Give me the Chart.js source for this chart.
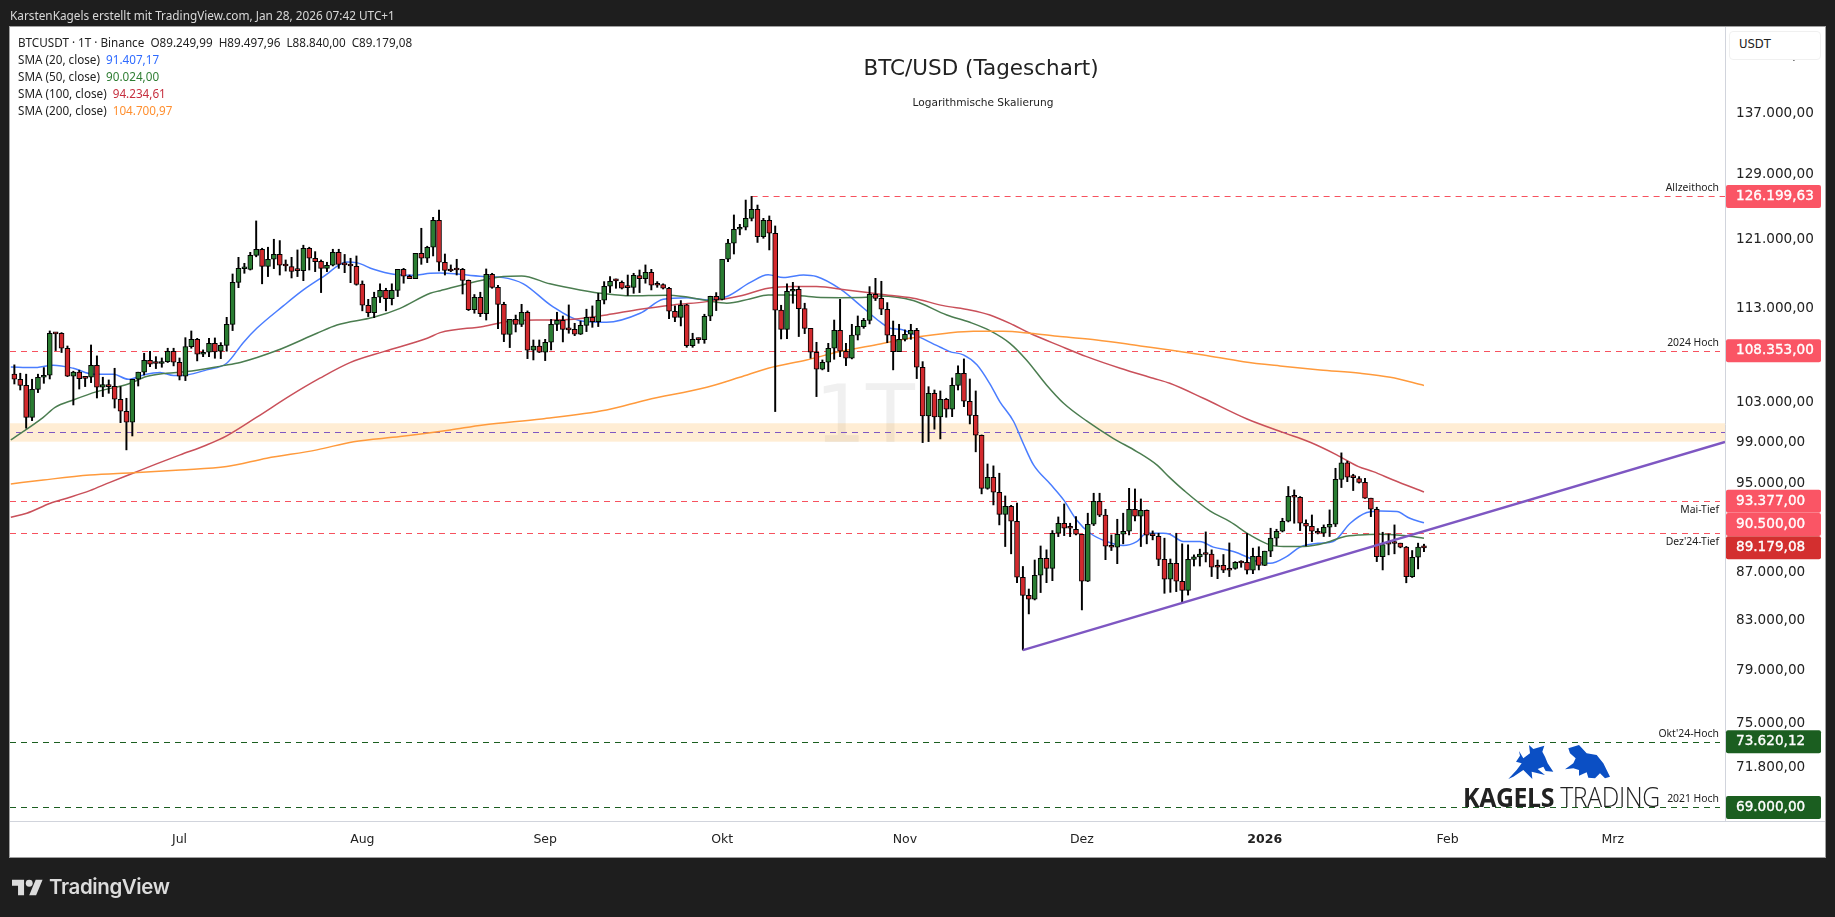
<!DOCTYPE html>
<html lang="de">
<head>
    <meta charset="UTF-8">
    <title>BTC/USD (Tageschart)</title>
    <script src="https://cdn.jsdelivr.net/npm/chart.js"></script>
    <style>
        html, body { margin: 0; padding: 0; background: #1e1e1e; overflow: hidden; }
        body { width: 1835px; height: 917px; position: relative; font-family: "DejaVu Sans", sans-serif; }
        canvas { position: absolute; left: 0; top: 0; }
        .abs { position: absolute; white-space: pre; line-height: 16px; }
        #header { left: 10px; top: 7px; color: #d8d8d8; font-family: "Noto Sans", sans-serif; font-size: 11.8px; }
        .legend { left: 18px; color: #222; font-family: "Noto Sans", sans-serif; font-size: 11.7px; }
        #title { left: 0; width: 1962px; top: 54px; text-align: center; color: #222; font-size: 21.5px; line-height: 28px; }
        #subtitle { left: 0; width: 1966px; top: 94px; text-align: center; color: #222; font-size: 10.6px; }
        #unit { left: 1729px; top: 31px; width: 90px; height: 27px; line-height: 24px; border: 1px solid #f0f0f0; border-radius: 4px;
                background: #fff; color: #222; font-size: 11.6px; text-indent: 9px; }
        #brand { left: 1463px; top: 781px; font-family: "Open Sans", sans-serif; font-size: 27px; line-height: 32px; color: #222;
                 letter-spacing: -0.4px; transform: scaleX(0.92); transform-origin: left top; }
        #brand b { font-weight: 700; }
        #brand span { font-weight: 300; }
        #tvname { left: 49px; top: 873px; color: #dcdcdc; font-family: Inter, sans-serif; font-weight: 600; font-size: 20.5px; line-height: 28px; letter-spacing: -0.4px; }
    </style>
</head>
<body>
    <canvas id="chart" width="1835" height="917"></canvas>

    <div class="abs" id="header">KarstenKagels erstellt mit TradingView.com, Jan 28, 2026 07:42 UTC+1</div>
    <div class="abs legend" style="top:34px">BTCUSDT · 1T · Binance  O89.249,99  H89.497,96  L88.840,00  C89.179,08</div>
    <div class="abs legend" style="top:51px">SMA (20, close)  <span style="color:#2f6bff">91.407,17</span></div>
    <div class="abs legend" style="top:68px">SMA (50, close)  <span style="color:#2e7d32">90.024,00</span></div>
    <div class="abs legend" style="top:85px">SMA (100, close)  <span style="color:#c62f3f">94.234,61</span></div>
    <div class="abs legend" style="top:102px">SMA (200, close)  <span style="color:#ff8f2f">104.700,97</span></div>
    <div class="abs" id="title">BTC/USD (Tageschart)</div>
    <div class="abs" id="subtitle">Logarithmische Skalierung</div>
    <div class="abs" id="unit">USDT</div>

    <!-- logo -->
    <svg class="abs" style="left:1455px;top:735px" width="210" height="48" viewBox="0 0 630 144">
        <polygon fill="#0b4fc4" points="160,132 185,105 200,85 183,80 195,62 192,48 205,70 225,55 222,30 235,42 268,32 262,50 270,65 278,85 295,110 272,108 265,95 248,102 270,120 230,110 232,132 205,105 175,125"/>
        <polygon fill="#0b4fc4" points="340,40 372,30 395,55 425,60 445,85 465,125 450,130 435,115 420,130 400,128 395,112 372,122 372,105 355,100 330,103 355,85 362,70 345,55"/>
    </svg>
    <div class="abs" id="brand"><b>KAGELS</b> <span>TRADING</span></div>
    <svg class="abs" style="left:12px;top:878px" width="31" height="19" viewBox="0 4 36 18">
        <path fill="#dcdcdc" d="M14 22H7V11H0V4h14v18zM28 22h-8l7.5-18h8L28 22z"/>
        <circle fill="#dcdcdc" cx="20" cy="8" r="4"/>
    </svg>
    <div class="abs" id="tvname">TradingView</div>

    <script>
        // Daily candles, one per day starting 28 days before Jul 1
        const firstDay = -28;
        const opens = [
            105870,105340,104710,101450,104300,105550,105760,110240,110240,108620,
            105660,106080,105510,105550,106810,104510,104780,104610,103280,102060,
            100960,105340,106080,107340,107020,106990,107200,108300,107130,105660,
            108800,109580,107980,108190,109150,108300,108930,111220,115930,117500,
            117430,119050,119780,117780,118600,119170,117900,117740,117350,117280,
            119900,118720,118360,117540,117900,119420,118010,117900,117780,115720,
            113330,112510,114230,115020,114080,115020,117430,116630,116350,119300,
            118720,120020,123260,118250,117310,117430,117430,116160,112850,114230,
            112400,116850,115360,113440,110100,111760,111220,112550,108400,108840,
            108190,109260,111220,111650,110670,110670,110130,111100,111990,111510,
            113890,115480,116120,115930,115410,115360,116700,116350,117080,115680,
            115680,115250,112660,111990,113370,108890,109620,109550,112110,114350,
            114000,118600,120510,122170,122410,123500,124600,121290,123260,121690,
            112780,110670,114910,115130,112960,110780,108190,106390,107130,108620,
            110560,108300,107550,110030,110970,111650,114570,114110,112890,
            110020,108260,109580,110130,110560,106600,101590,103880,101490,103280,102260,
            104700,105970,103080,101650,99670,94580,95610,94210,92180,92920,
            91550,86620,85090,84760,86790,88250,87390,90470,91370,90980,
            90830,90380,86280,91280,93380,92100,89320,89230,90380,90650,
            92640,92000,92550,90320,90200,88170,86450,87820,86280,85510,
            88170,88380,88650,88620,87650,87650,87390,87390,87910,87910,
            87220,88440,87650,88880,90030,90650,91550,93840,93750,91370,
            91100,90650,90470,91010,91280,95420,97000,95640,95490,95140,
            93660,92640,88400,89560,89590,89590,89240,86680,88350,89249.99
        ];
        const highs = [
            106850,105970,105870,105340,105870,106560,110490,110310,110310,108860,
            106180,106290,105620,108970,107800,105550,105270,106490,104580,103380,
            105340,106080,108080,108300,107720,107580,108620,108620,107580,109760,
            110490,109690,108440,109690,109730,109220,111990,116890,118830,118130,
            119420,123180,119900,120020,120970,120810,118520,118830,119700,120260,
            120020,119500,118520,118250,119780,119780,119170,118720,118990,116090,
            114000,114800,115760,115250,115760,117430,117540,116770,119300,122290,
            120140,123620,124520,119220,117940,118600,117540,116200,114540,114800,
            117470,116970,115600,113670,111760,112240,113440,112700,109510,109510,
            109580,111760,112550,112140,113370,111330,111580,112890,113260,114680,
            116010,116590,116310,116090,116770,116970,117350,117940,117430,116010,
            115760,115360,113260,113860,113440,110240,109730,112330,114350,114760,
            118600,120970,123910,122770,125750,126199.63,125130,123500,123790,122570,
            113330,115760,115930,115440,113560,110780,109260,107370,109150,111690,
            114000,109150,111220,112140,111870,115440,116390,116050,113630,
            111580,111220,110600,111220,110780,107190,104570,104230,104130,103380,105480,
            106750,107480,105370,104130,99700,96880,96700,96000,93870,93000,
            93220,87550,85620,88110,89340,89000,90710,91940,93130,91370,
            91970,90380,92280,94120,94120,92640,90320,91730,92280,94580,
            94520,93590,92580,90680,90470,90030,88200,90470,89530,89440,
            88560,89060,90590,89000,88110,88590,89610,87970,88050,90440,
            89150,89270,88880,90920,90830,91820,94750,94430,93810,91670,
            92120,90890,91220,92580,96470,97950,97150,95900,95680,95520,
            93660,92830,90560,90410,91220,89590,89300,88940,89590,89497.96
        ];
        const lows = [
            104850,104230,100370,101120,103960,104920,105370,108370,108160,105620,
            102700,104330,104580,104990,103410,103550,103890,102390,100920,98240,
            99600,104640,105790,106670,106460,106600,107100,106740,105270,105200,
            108620,107270,107720,107720,107550,107510,108300,110530,115320,116970,
            117350,118890,115760,116590,117510,116770,117230,116430,116590,116120,
            117350,117160,114760,117160,117820,117540,117040,115890,115600,112710,
            112070,111950,113630,112710,113370,114310,115830,116350,116350,118010,
            118210,118990,117230,116770,117160,116770,114600,112740,112440,112070,
            111690,115250,110750,109330,108690,110380,110970,107510,107370,108160,
            107300,108440,110530,109300,110240,109980,110100,110420,110890,110970,
            113480,114760,115250,115170,114430,114680,114760,115830,115060,115360,
            115170,111840,111510,111040,108720,108720,109150,109150,111620,112740,
            113930,118320,119220,121500,122090,123180,120590,121090,119700,102030,
            109620,109650,113560,109880,110200,107550,103550,106320,106140,107440,
            107720,106770,107480,109510,110780,111260,113860,112280,109220,
            106320,108260,109400,109580,105410,98950,99050,100270,99310,101460,101520,
            104230,102530,100790,98050,94060,94490,93040,91220,89290,88650,
            86160,80610,83540,84700,85320,86160,86330,90170,90260,90170,
            90320,83870,86250,91160,91970,88140,88940,87790,89530,90320,
            91580,89290,89530,89880,87620,85260,85340,85400,84490,85110,
            87590,87590,87940,86680,86500,87020,86680,87310,87480,86900,
            86930,87250,87620,88400,89380,90590,91490,91370,90710,89350,
            89730,90410,90180,90180,91070,94650,95200,94370,95070,93630,
            91970,87970,87250,88560,88650,89180,86150,86600,87340,88840
        ];
        const closes = [
            105340,104710,101450,104300,105550,105760,110240,110170,108620,105660,
            106080,105410,105440,106810,104510,104780,104580,103280,102060,100960,
            105340,106080,107340,106920,106990,107200,108300,107130,105660,108800,
            109580,107980,108190,109150,108230,108930,111220,115930,117540,117540,
            119050,119780,117780,118600,119170,117900,117820,117200,117280,119900,
            118720,118320,117540,117900,119420,118010,117940,117820,115680,113330,
            112510,114230,115020,114080,115020,117430,116630,116350,119300,118720,
            120020,123260,118250,117310,117230,117350,116160,112850,114230,112400,
            116850,115360,113440,110100,111760,111220,112550,108400,108840,108190,
            109260,111220,111650,110670,110600,110130,111100,111990,111510,113890,
            115480,116050,116090,115250,115320,116740,116350,117080,115600,115600,
            115250,112660,111990,113330,108890,109580,109550,112110,114350,113930,
            118600,120510,122170,122410,123500,124600,121290,123260,121690,112780,
            110670,114910,115130,112960,110780,108190,106390,107130,108620,110560,
            108300,107550,110030,111000,111650,114570,114110,112890,110030,
            108260,109580,110130,110560,106600,101590,103880,101490,103280,102260,104700,
            105970,103080,101650,99670,94580,95610,94210,92180,92920,91550,
            86620,85090,84760,86790,88250,87390,90470,91370,90920,90920,
            90380,86280,91280,93380,92100,89320,89230,90380,90650,92640,
            92000,92550,90290,90260,88170,86450,87820,86280,85510,88170,
            88380,88620,88590,87480,87480,87220,87220,87910,87850,87220,
            88440,87650,88880,90030,90650,91550,93840,93750,91370,91100,
            90650,90470,91010,91280,95420,97000,95620,95580,95140,93660,
            92640,88400,89470,89500,89560,89240,86680,88350,89240,89179.08
        ];

        // SMA lines, read at sample days (days since Jul 1)
        const sma20Days = [-28.6,-24.8,-21.4,-18,-14.6,-11.2,-8.7,-6.1,-3.3,-1,1.2,4.6,8,10.8,13.1,17.6,21,24.4,28.4,30,32.9,36.3,39.7,42.5,44.2,51.5,54.9,58.3,63.1,67.9,72.4,78.1,82,86,89.4,92.8,96.7,99.8,102.4,105.8,108,112,116,118.8,120.5,122.2,125,129,130.6,132.9,135.2,137.4,139.1,141.4,143.1,144.8,147.6,149.9,152.1,154.4,157.2,160,162.3,164,166.8,167.9,170.2,173,175.3,178.7,181.5,183.2,184.9,187.7,190,193.4,195.6,198.5,201.3,203.6,206.4,208.6,211];
        const sma20Values = [106630,106560,106810,106490,105870,105870,105340,105790,106040,105730,105790,106320,107020,109220,110780,113260,115060,116590,118280,118210,117430,116850,116740,116970,117010,116590,116470,115760,113260,111620,111440,112440,114000,114190,113930,114310,115890,116810,116470,116770,116590,115170,113000,111480,110780,110670,109950,108730,108260,107910,106860,104870,103010,101060,98810,96790,95000,93500,91670,90470,89730,89380,89730,90470,90470,90380,89730,89730,89240,88850,88260,87880,87820,88400,89240,89590,89730,91370,92340,92490,92430,91820,91407.17];
        const sma50Days = [-28.6,-23.1,-21.1,-18,-14,-8.7,-5.6,-2.2,1.2,7.4,10.3,16.5,23.3,26.7,32.9,37.4,42.5,44.2,51.5,54.9,58,62.8,67.9,72.4,76.4,82.6,85.4,89.4,92.8,96.7,99.8,103.5,108,112,116.5,118.8,124.4,130.1,134,137.4,140.8,143.6,147,149.9,153.8,158.3,162.3,165.7,167.9,170.2,174.7,178.1,181.5,184.9,187.2,190.6,194.5,197.3,200.2,203.5,207.5,211];
        const sma50Values = [99210,101450,102460,103210,104060,104850,105620,105970,106140,106770,107100,108370,110240,111150,111990,112990,114680,114980,116200,116590,116660,115760,115060,114600,114390,114460,114310,113860,113560,114040,114500,114500,114230,114190,114230,114380,113860,112250,111440,110530,109150,107370,104750,102870,101090,99370,98080,96790,95580,94430,92490,91520,90320,89440,89300,89300,89650,90140,90320,90380,90260,90024];
        const sma100Days = [-28.6,-25.9,-21.9,-19.1,-15.2,-11.8,-7.9,-3.9,0.1,4.6,8,13.1,18.7,23.8,28.9,34.6,42,44.2,51.5,56.6,61.7,66.8,72.4,78.1,83.7,89.4,95,99.8,104.1,108,113.1,118.8,124.4,129.5,134,137.4,141.4,144.2,149.3,153.8,159.5,165.1,167.9,173.6,181,187.2,191.7,196.2,199.9,202.4,205.8,211];
        const sma100Values = [91910,92280,93190,93660,94360,95140,96000,96890,97760,98720,99610,101460,103620,105450,107090,108260,109690,110310,110990,111620,111690,111770,112250,112890,113370,113740,114380,115250,115440,115440,115060,114570,114120,113290,112810,112250,111140,110240,108870,107720,106490,105440,104920,103380,101290,99930,98980,97760,96630,96150,95360,94234.61];
        const sma200Days = [-28.6,-23.1,-15.2,-7.9,0.1,8,14.8,23.3,29.5,37.4,45.9,51.5,61.4,72.4,79.2,89.4,95,99.8,106.3,112,118.8,122.2,125.6,130.1,134.6,139.7,144.2,149.3,155.5,162.9,167.9,173.6,180.4,186.6,193.4,200.2,205.3,211];
        const sma200Values = [94990,95360,95830,96050,96310,96630,97430,98240,99040,99540,100200,100690,101290,102190,103210,104510,105550,106500,107370,108260,109080,109510,109880,110240,110450,110450,110240,109880,109510,108870,108440,107900,107190,106740,106320,105970,105550,104700.97];

        // Trend line from the November low
        const trendDays = [143, 262.04];
        const trendValues = [80610, 99015];

        // Horizontal levels
        const redLevels = [126199.63, 108353, 93377, 90500];
        const redLevelNames = ['Allzeithoch', '2024 Hoch', 'Mai-Tief', "Dez'24-Tief"];
        const greenLevels = [73620.12, 69000];
        const greenLevelNames = ["Okt'24-Hoch", '2021 Hoch'];
        const athStartDay = 97;
        const zoneLow = 99040, zoneMid = 99970, zoneHigh = 100860;
        const lastPrice = 89179.08;

        // Axes
        const yTicks = [145000, 137000, 129000, 121000, 113000, 103000, 99000, 95000, 87000, 83000, 79000, 75000, 71800];
        const monthDays = [0, 31, 62, 92, 123, 153, 184, 215, 243];
        const monthNames = ['Jul', 'Aug', 'Sep', 'Okt', 'Nov', 'Dez', '2026', 'Feb', 'Mrz'];

        const fontName = '"DejaVu Sans", sans-serif';
        const money = v => v.toLocaleString('de-DE', { minimumFractionDigits: 2, maximumFractionDigits: 2 });
        const pairs = (xs, ys) => xs.map((x, i) => ({ x: x, y: ys[i] }));
        const upColor = '#2a7d32', downColor = '#d32a2e';

        function smaDataset(days, values, color) {
            return { type: 'line', data: pairs(days, values), borderColor: color, borderWidth: 1.5, pointRadius: 0,
                     cubicInterpolationMode: 'monotone', order: 5 };
        }

        // Frame, price zone, levels, tags and labels are drawn around the library's datasets
        const overlays = {
            id: 'overlays',
            beforeDraw(chart) {
                const c = chart.ctx;
                c.save();
                c.fillStyle = '#1e1e1e';
                c.fillRect(0, 0, chart.width, chart.height);
                c.fillStyle = '#a0a0a0';
                c.fillRect(9, 26, 1817, 832);
                c.fillStyle = '#fff';
                c.fillRect(10, 27, 1815, 830);
                c.restore();
            },
            beforeDatasetsDraw(chart) {
                const c = chart.ctx, y = chart.scales.y, x = chart.scales.x, a = chart.chartArea;
                c.save();
                // watermark
                c.fillStyle = '#f0f0f0';
                c.font = '80px ' + fontName;
                c.textAlign = 'center';
                c.textBaseline = 'middle';
                c.fillText('1T', 865, 421);
                // zone
                c.fillStyle = 'rgba(255,167,38,0.2)';
                c.fillRect(a.left, y.getPixelForValue(zoneHigh), a.right - a.left, y.getPixelForValue(zoneLow) - y.getPixelForValue(zoneHigh));
                c.lineWidth = 1;
                c.setLineDash([6, 5]);
                const level = (value, color, from, to) => {
                    const py = Math.round(y.getPixelForValue(value)) + 0.5;
                    c.strokeStyle = color;
                    c.beginPath();
                    c.moveTo(from, py);
                    c.lineTo(to, py);
                    c.stroke();
                };
                level(zoneMid, '#7e57c2', 16, a.right);
                redLevels.forEach((v, i) => level(v, '#f7525f', i === 0 ? x.getPixelForValue(athStartDay) : a.left, i === 0 ? a.right : a.right - 5));
                greenLevels.forEach(v => level(v, '#1b5e20', a.left, a.right - 5));
                c.restore();
            },
            afterDraw(chart) {
                const c = chart.ctx, y = chart.scales.y, a = chart.chartArea;
                c.save();
                c.fillStyle = '#d1d4dc';
                c.fillRect(a.right, a.bottom, 100, 1);
                c.textBaseline = 'middle';
                // level labels
                c.font = '10.4px "Noto Sans", sans-serif';
                c.textAlign = 'right';
                c.fillStyle = '#222';
                redLevelNames.forEach((name, i) => c.fillText(name, a.right - 6, y.getPixelForValue(redLevels[i]) + (i < 2 ? -8 : 9)));
                greenLevelNames.forEach((name, i) => c.fillText(name, a.right - 6, y.getPixelForValue(greenLevels[i]) - 8));
                // price tags, the 90.500 one is pushed up to clear the last price
                const tag = (value, color, shift) => {
                    const py = y.getPixelForValue(value) + (shift || 0);
                    c.fillStyle = color;
                    c.beginPath();
                    c.roundRect(a.right + 1, py - 11.5, 95, 23, 2);
                    c.fill();
                    c.fillStyle = '#fff';
                    c.strokeStyle = '#fff';
                    c.lineWidth = 0.35;
                    c.font = '13.6px ' + fontName;
                    c.textAlign = 'left';
                    c.fillText(money(value), a.right + 11, py);
                    c.strokeText(money(value), a.right + 11, py);
                };
                redLevels.forEach(v => tag(v, '#fa5565', v === 90500 ? -8.5 : 0));
                greenLevels.forEach(v => tag(v, '#1b5e20'));
                tag(lastPrice, '#d32f2f');
                c.restore();
            }
        };

        const candleDays = opens.map((o, i) => firstDay + i);
        const candleColors = opens.map((o, i) => closes[i] >= o ? upColor : downColor);

        new Chart(document.getElementById('chart').getContext('2d'), {
            type: 'bar',
            data: {
                datasets: [
                    smaDataset(sma200Days, sma200Values, '#ff9a3c'),
                    smaDataset(sma100Days, sma100Values, '#c9505a'),
                    smaDataset(sma50Days, sma50Values, '#4b7d50'),
                    smaDataset(sma20Days, sma20Values, '#4a7dff'),
                    { data: candleDays.map((d, i) => ({ x: d, y: [lows[i], highs[i]] })), backgroundColor: '#000', barThickness: 1.3, grouped: false, order: 3 },
                    { data: candleDays.map((d, i) => ({ x: d, y: [opens[i], closes[i]] })), backgroundColor: candleColors, borderColor: '#000', borderWidth: 1,
                      borderSkipped: false, barThickness: 5, minBarLength: 2, grouped: false, order: 2 },
                    { type: 'line', data: pairs(trendDays, trendValues), borderColor: '#7e57c2', borderWidth: 2.4, pointRadius: 0, order: 1 }
                ]
            },
            options: {
                responsive: false,
                animation: false,
                layout: { padding: { left: 10, top: 27, right: 10, bottom: 60 } },
                plugins: { legend: { display: false }, tooltip: { enabled: false } },
                scales: {
                    x: {
                        type: 'linear',
                        offset: false,
                        min: -28.74,
                        max: 262.04,
                        grid: { display: false, drawTicks: false },
                        border: { color: '#d1d4dc' },
                        afterBuildTicks: s => { s.ticks = monthDays.map(d => ({ value: d })); },
                        afterFit: s => { s.height = 36; },
                        ticks: {
                            autoSkip: false,
                            maxRotation: 0,
                            padding: 11,
                            color: '#222',
                            font: ctx => ({ family: fontName, size: 12.5, weight: monthNames[ctx.index] === '2026' ? 'bold' : 'normal' }),
                            callback: (v, i) => monthNames[i]
                        }
                    },
                    y: {
                        type: 'logarithmic',
                        position: 'right',
                        min: 68080,
                        max: 149200,
                        grid: { display: false, drawTicks: false },
                        border: { color: '#d1d4dc' },
                        afterBuildTicks: s => { s.ticks = yTicks.map(v => ({ value: v })); },
                        afterFit: s => { s.width = 100; },
                        ticks: {
                            autoSkip: false,
                            padding: 11,
                            color: '#222',
                            font: { family: fontName, size: 13.6 },
                            callback: v => money(v)
                        }
                    }
                }
            },
            plugins: [overlays]
        });
    </script>
</body>
</html>
